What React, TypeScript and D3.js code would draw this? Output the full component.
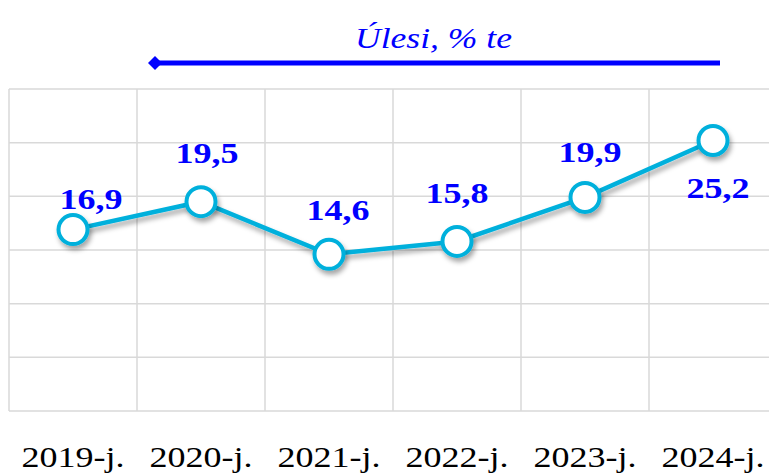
import React from "react";
import * as d3 from "d3";

const categories = ["2019-j.", "2020-j.", "2021-j.", "2022-j.", "2023-j.", "2024-j."];
const values = [16.9, 19.5, 14.6, 15.8, 19.9, 25.2];
const valueLabels = ["16,9", "19,5", "14,6", "15,8", "19,9", "25,2"];
const yTicks = [0, 5, 10, 15, 20, 25, 30];
const title = "Úlesi, % te";

// label placement relative to marker (layout only)
const labelOffsets = [
  [18, -21],
  [6, -39],
  [9, -34],
  [0, -38],
  [5, -35],
  [5, 57],
];

const W = 769;
const H = 473;
const FS = 30;

export default function App() {
  const x = d3.scaleBand<string>().domain(categories).range([9, 777]).padding(0);
  const y = d3.scaleLinear().domain([0, 30]).range([411, 89]);
  const cx = (c: string) => (x(c) as number) + x.bandwidth() / 2;
  const line = d3
    .line<number>()
    .x((_, i) => cx(categories[i]))
    .y((v) => y(v));
  const serif = `"Liberation Serif"`;
  const cyan = "#00b0dc";
  const blue = "#0000ff";
  return (
    <svg width={W} height={H} style={{ position: "absolute", left: 0, top: 0 }}>
      <defs>
        <filter id="sh" x="-30%" y="-30%" width="160%" height="180%">
          <feDropShadow dx="2" dy="4" stdDeviation="2.5" floodColor="#000" floodOpacity="0.35" />
        </filter>
      </defs>
      <rect x={0} y={0} width={W} height={H} fill="#fff" />
      <g stroke="#d9d9d9" strokeWidth={1.5}>
        {yTicks.map((t) => (
          <line key={"h" + t} x1={9} x2={W} y1={y(t)} y2={y(t)} />
        ))}
        {categories.map((c) => (
          <line key={"v" + c} x1={x(c)} x2={x(c)} y1={y(30)} y2={y(0)} />
        ))}
      </g>
      <line x1={155} x2={720} y1={63} y2={63} stroke={blue} strokeWidth={5} />
      <path d="M155,56 L162,63 L155,70 L148,63 Z" fill={blue} />
      <text
        x={355}
        y={48}
        textLength={157}
        lengthAdjust="spacingAndGlyphs"
        style={{ fontFamily: serif, fontStyle: "italic", fontSize: FS }}
        fill={blue}
      >
        {title}
      </text>
      <path d={line(values) || ""} fill="none" stroke={cyan} strokeWidth={4.5} filter="url(#sh)" />
      {values.map((v, i) => (
        <circle
          key={"c" + i}
          cx={cx(categories[i])}
          cy={y(v)}
          r={14.5}
          fill="#fff"
          stroke={cyan}
          strokeWidth={4}
          filter="url(#sh)"
        />
      ))}
      {values.map((v, i) => (
        <text
          key={"l" + i}
          x={cx(categories[i]) + labelOffsets[i][0] - 31.5}
          y={y(v) + labelOffsets[i][1]}
          textLength={63}
          lengthAdjust="spacingAndGlyphs"
          style={{ fontFamily: serif, fontWeight: "bold", fontSize: FS }}
          fill={blue}
        >
          {valueLabels[i]}
        </text>
      ))}
      {categories.map((c) => (
        <text
          key={"x" + c}
          x={cx(c) - 51.5}
          y={467}
          textLength={103}
          lengthAdjust="spacingAndGlyphs"
          style={{ fontFamily: serif, fontSize: FS }}
          fill="#000"
        >
          {c}
        </text>
      ))}
    </svg>
  );
}
